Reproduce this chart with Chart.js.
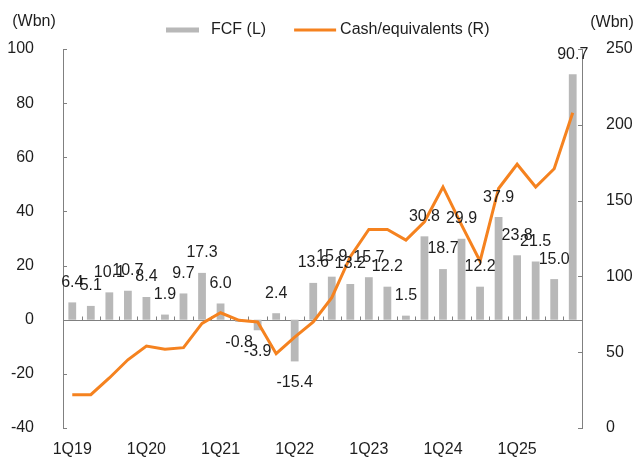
<!DOCTYPE html>
<html>
<head>
<meta charset="utf-8">
<script src="https://cdn.jsdelivr.net/npm/chart.js@4.4.1/dist/chart.umd.min.js"></script>
<style>
  html, body { margin: 0; padding: 0; background: #fff; }
  #wrap { width: 641px; height: 461px; position: relative; }
</style>
</head>
<body>
<div id="wrap"><canvas id="fcfChart"></canvas></div>
<script>
// quarters 1Q19 .. 4Q25
const quarters = [
  '1Q19', '2Q19', '3Q19', '4Q19',
  '1Q20', '2Q20', '3Q20', '4Q20',
  '1Q21', '2Q21', '3Q21', '4Q21',
  '1Q22', '2Q22', '3Q22', '4Q22',
  '1Q23', '2Q23', '3Q23', '4Q23',
  '1Q24', '2Q24', '3Q24', '4Q24',
  '1Q25', '2Q25', '3Q25', '4Q25'
];

// FCF, left axis (Wbn)
const fcf = [
  6.4, 5.1, 10.1, 10.7,
  8.4, 1.9, 9.7, 17.3,
  6.0, -0.8, -3.9, 2.4,
  -15.4, 13.6, 15.9, 13.2,
  15.7, 12.2, 1.5, 30.8,
  18.7, 29.9, 12.2, 37.9,
  23.8, 21.5, 15.0, 90.7
];

// cash & equivalents, right axis (Wbn)
const cash = [
  22, 22, 33, 45,
  54, 52, 53, 69,
  76, 71, 70, 49,
  60, 70, 86, 113,
  131, 131, 124, 136,
  159, 134, 110, 158,
  174, 159, 171, 208
];

const leftTicks = { min: -40, max: 100, step: 20 };
const rightTicks = { min: 0, max: 250, step: 50 };
const unitLabel = '(Wbn)';

const FONT = "'Liberation Sans', Arial, sans-serif";
const TEXT = '#1e1e1e';
const AXIS = '#808080';
const GREY = '#b8b8b8';
const ORANGE = '#f5821f';

// axis lines at zero, small inside ticks, unit titles
const axisDeco = {
  id: 'axisDeco',
  beforeDatasetsDraw(chart) {
    const ctx = chart.ctx;
    const area = chart.chartArea;
    const yl = chart.scales.y;
    const yr = chart.scales.y2;
    const x = chart.scales.x;
    ctx.save();
    ctx.strokeStyle = AXIS;
    ctx.lineWidth = 1;
    const y0 = Math.round(yl.getPixelForValue(0)) + 0.5;
    ctx.beginPath();
    ctx.moveTo(area.left, y0);
    ctx.lineTo(area.right, y0);
    // tick marks between the quarters
    for (let i = 1; i < quarters.length; i++) {
      const bx = Math.round((x.getPixelForValue(i - 1) + x.getPixelForValue(i)) / 2) + 0.5;
      ctx.moveTo(bx, y0);
      ctx.lineTo(bx, y0 - 4);
    }
    yl.ticks.forEach(t => {
      const py = Math.round(yl.getPixelForValue(t.value)) + 0.5;
      ctx.moveTo(area.left, py);
      ctx.lineTo(area.left + 4, py);
    });
    yr.ticks.forEach(t => {
      const py = Math.round(yr.getPixelForValue(t.value)) + 0.5;
      ctx.moveTo(area.right, py);
      ctx.lineTo(area.right - 4, py);
    });
    ctx.stroke();
    ctx.restore();
  },
  afterDraw(chart) {
    const ctx = chart.ctx;
    ctx.save();
    ctx.font = '16px ' + FONT;
    ctx.fillStyle = TEXT;
    ctx.textBaseline = 'middle';
    ctx.textAlign = 'center';
    ctx.fillText(unitLabel, 34, 22);
    ctx.fillText(unitLabel, 612, 23);

    // legend
    const ly = 30;
    let lx = 166;
    ctx.textAlign = 'left';
    ctx.fillStyle = GREY;
    ctx.fillRect(lx, ly - 2.5, 33, 5);
    lx += 33 + 12;
    ctx.fillStyle = TEXT;
    const t1 = chart.data.datasets[0].label;
    ctx.fillText(t1, lx, ly);
    lx += ctx.measureText(t1).width + 28;
    ctx.strokeStyle = ORANGE;
    ctx.lineWidth = 3;
    ctx.beginPath();
    ctx.moveTo(lx, ly);
    ctx.lineTo(lx + 42, ly);
    ctx.stroke();
    lx += 42 + 4;
    ctx.fillText(chart.data.datasets[1].label, lx, ly);
    ctx.restore();
  }
};

// value labels on the bars
const barLabels = {
  id: 'barLabels',
  afterDatasetsDraw(chart) {
    const ctx = chart.ctx;
    const meta = chart.getDatasetMeta(0);
    ctx.save();
    ctx.font = '16px ' + FONT;
    ctx.fillStyle = TEXT;
    ctx.textAlign = 'center';
    ctx.textBaseline = 'middle';
    meta.data.forEach((bar, i) => {
      const v = fcf[i];
      const y = v >= 0 ? bar.y - 20 : bar.y + 21;
      ctx.fillText(v.toFixed(1), bar.x, y);
    });
    ctx.restore();
  }
};

const ctx = document.getElementById('fcfChart').getContext('2d');
const myChart = new Chart(ctx, {
  type: 'bar',
  data: {
    labels: quarters,
    datasets: [{
      type: 'bar',
      label: 'FCF (L)',
      data: fcf,
      backgroundColor: GREY,
      borderWidth: 0,
      barPercentage: 0.42,
      categoryPercentage: 1,
      yAxisID: 'y',
      order: 2
    }, {
      type: 'line',
      label: 'Cash/equivalents (R)',
      data: cash,
      borderColor: ORANGE,
      backgroundColor: ORANGE,
      borderWidth: 3,
      pointRadius: 0,
      tension: 0,
      yAxisID: 'y2',
      order: 1
    }]
  },
  options: {
    responsive: true,
    maintainAspectRatio: false,
    animation: false,
    layout: { padding: { top: 49, left: 0, right: 0, bottom: 0 } },
    plugins: {
      legend: { display: false },
      tooltip: { enabled: false }
    },
    scales: {
      x: {
        offset: true,
        grid: { display: false },
        border: { display: false },
        ticks: {
          autoSkip: false,
          maxRotation: 0,
          padding: 4,
          color: TEXT,
          font: { family: FONT, size: 16 },
          callback: function (val, i) { return i % 4 === 0 ? quarters[i] : ''; }
        },
        afterFit: s => { s.height = 33; }
      },
      y: {
        position: 'left',
        min: leftTicks.min,
        max: leftTicks.max,
        grid: { display: false },
        border: { display: true, color: AXIS, width: 1 },
        ticks: {
          stepSize: leftTicks.step,
          padding: 21,
          color: TEXT,
          font: { family: FONT, size: 16 }
        },
        afterFit: s => { s.width = 63; }
      },
      y2: {
        position: 'right',
        min: rightTicks.min,
        max: rightTicks.max,
        grid: { display: false },
        border: { display: true, color: AXIS, width: 1 },
        ticks: {
          stepSize: rightTicks.step,
          padding: 16,
          color: TEXT,
          font: { family: FONT, size: 16 }
        },
        afterFit: s => { s.width = 59; }
      }
    }
  },
  plugins: [axisDeco, barLabels]
});
</script>
</body>
</html>
